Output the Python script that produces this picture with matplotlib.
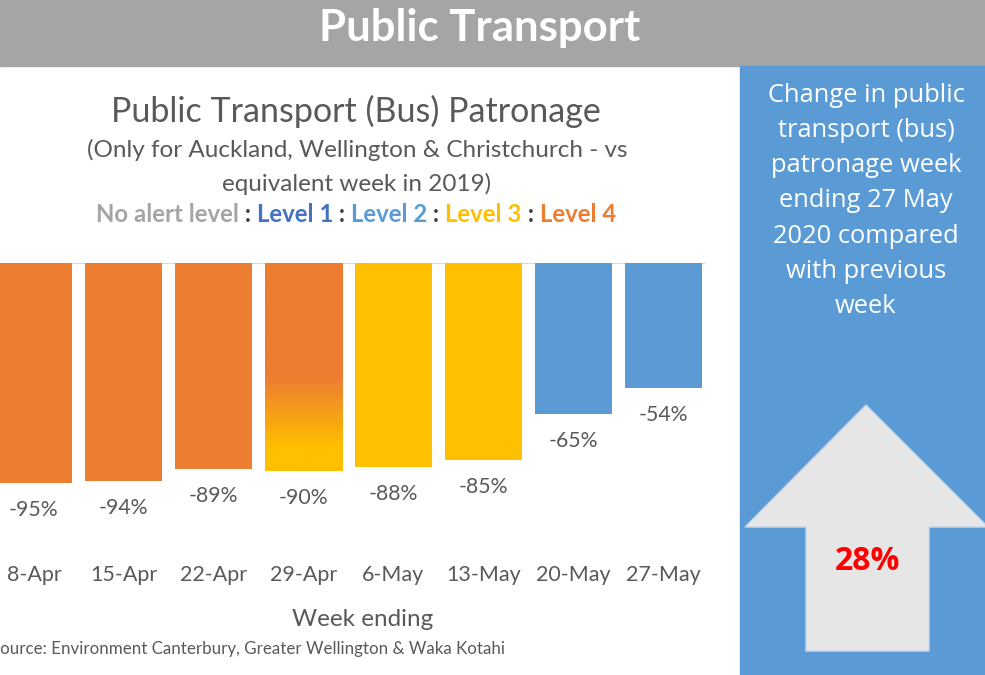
import matplotlib.pyplot as plt
import numpy as np
from matplotlib.colors import LinearSegmentedColormap
from matplotlib.patches import Rectangle, Polygon

weeks = ['8-Apr', '15-Apr', '22-Apr', '29-Apr', '6-May', '13-May', '20-May', '27-May']
change = [-95, -94, -89, -90, -88, -85, -65, -54]
levels = ['4', '4', '4', '4-3', '3', '3', '2', '2']
weekly_change = '28%'

orange = '#ED7D31'
yellow = '#FFC000'
blue = '#5B9BD5'
level_colors = {'4': orange, '3': yellow, '2': blue, '4-3': 'none'}
txt = '#595959'

W, H = 985, 675
fig = plt.figure(figsize=(W / 100, H / 100), dpi=100)

# background shapes in pixel coords
bg = fig.add_axes([0, 0, 1, 1])
bg.set_xlim(0, W)
bg.set_ylim(H, 0)
bg.axis('off')
bg.add_patch(Rectangle((0, 0), W, 66, color='#A5A5A5'))
bg.add_patch(Rectangle((740, 66), W - 740, H - 66, color=blue))
bg.add_patch(Polygon([(866, 405), (988, 527), (929, 527), (929, 651),
                      (806, 651), (806, 527), (745, 527)],
                     closed=True, facecolor='#E6E6E6', edgecolor='#C9D6E6', lw=1))

# bar chart axes
ax = fig.add_axes([-11 / W, (H - 494.6) / H, 719 / W, 231.6 / H])
ax.set_xlim(-0.5, 7.5)
ax.set_ylim(-100, 0)
ax.axis('off')
ax.axhline(0, color='#D9D9D9', lw=1.5, xmax=0.995, zorder=1)

x = np.arange(len(weeks))
bars = ax.bar(x, change, width=0.857, color=[level_colors[l] for l in levels], zorder=2)

# gradient bar (level 4 -> level 3)
grad_cmap = LinearSegmentedColormap.from_list(
    'g', [(0, orange), (0.5, orange), (0.8, yellow), (1, yellow)])
for b, l in zip(bars, levels):
    if l == '4-3':
        grad = np.linspace(0, 1, 256).reshape(-1, 1)
        x0 = b.get_x()
        im = ax.imshow(grad, extent=[x0, x0 + b.get_width(), -100, 0], origin='upper',
                       aspect='auto', cmap=grad_cmap, zorder=2)
        im.set_clip_path(b)

for xi, v in zip(x, change):
    ax.annotate(f'{v}%', (xi, v), xytext=(0, -27), textcoords='offset pixels',
                ha='center', va='center', fontsize=15.3, color=txt,
                family='Lato', annotation_clip=False)
    ax.text(xi, -134.5, weeks[xi], ha='center', va='center', fontsize=15.5,
            color=txt, family='Lato', clip_on=False)

# titles
fig.text(480 / W, 1 - 28 / H, 'Public Transport', ha='center', va='center',
         fontsize=31.5, fontweight='bold', color='white', family='Lato')
fig.text(356 / W, 1 - 111 / H, 'Public Transport (Bus) Patronage', ha='center',
         va='center', fontsize=24.5, color=txt, family='Lato')
fig.text(357 / W, 1 - 150 / H, '(Only for Auckland, Wellington & Christchurch - vs',
         ha='center', va='center', fontsize=17.5, color=txt, family='Lato')
fig.text(357 / W, 1 - 184 / H, 'equivalent week in 2019)', ha='center', va='center',
         fontsize=17.5, color=txt, family='Lato')

legend_parts = [('No alert level', '#A5A5A5'), (' : ', '#404040'), ('Level 1', '#4472C4'),
                (' : ', '#404040'), ('Level 2', blue), (' : ', '#404040'),
                ('Level 3', yellow), (' : ', '#404040'), ('Level 4', orange)]
fig.canvas.draw()
rend = fig.canvas.get_renderer()
pieces = []
for s, c in legend_parts:
    t = fig.text(0, 1 - 214 / H, s, ha='left', va='center', fontsize=17.3,
                 fontweight='bold', color=c, family='Lato')
    pieces.append(t)
widths = [t.get_window_extent(rend).width for t in pieces]
start = 356 - sum(widths) / 2
for t, w in zip(pieces, widths):
    t.set_x(start / W)
    start += w

fig.text(363 / W, 1 - 619 / H, 'Week ending', ha='center', va='center',
         fontsize=17.5, color=txt, family='Lato')
fig.text(-9 / W, 1 - 649 / H, 'Source: Environment Canterbury, Greater Wellington & Waka Kotahi',
         ha='left', va='center', fontsize=12.2, color=txt, family='Lato')

# side panel
panel_lines = ['Change in public', 'transport (bus)', 'patronage week', 'ending 27 May',
               '2020 compared', 'with previous', 'week']
for i, s in enumerate(panel_lines):
    fig.text(866 / W, 1 - (95 + 35.3 * i) / H, s, ha='center', va='center',
             fontsize=18.4, color='white', family='Open Sans')
fig.text(867 / W, 1 - 562 / H, weekly_change, ha='center', va='center', fontsize=23,
         fontweight='bold', color='#FF0000', family='Open Sans')

fig.savefig('out.png', dpi=100)
